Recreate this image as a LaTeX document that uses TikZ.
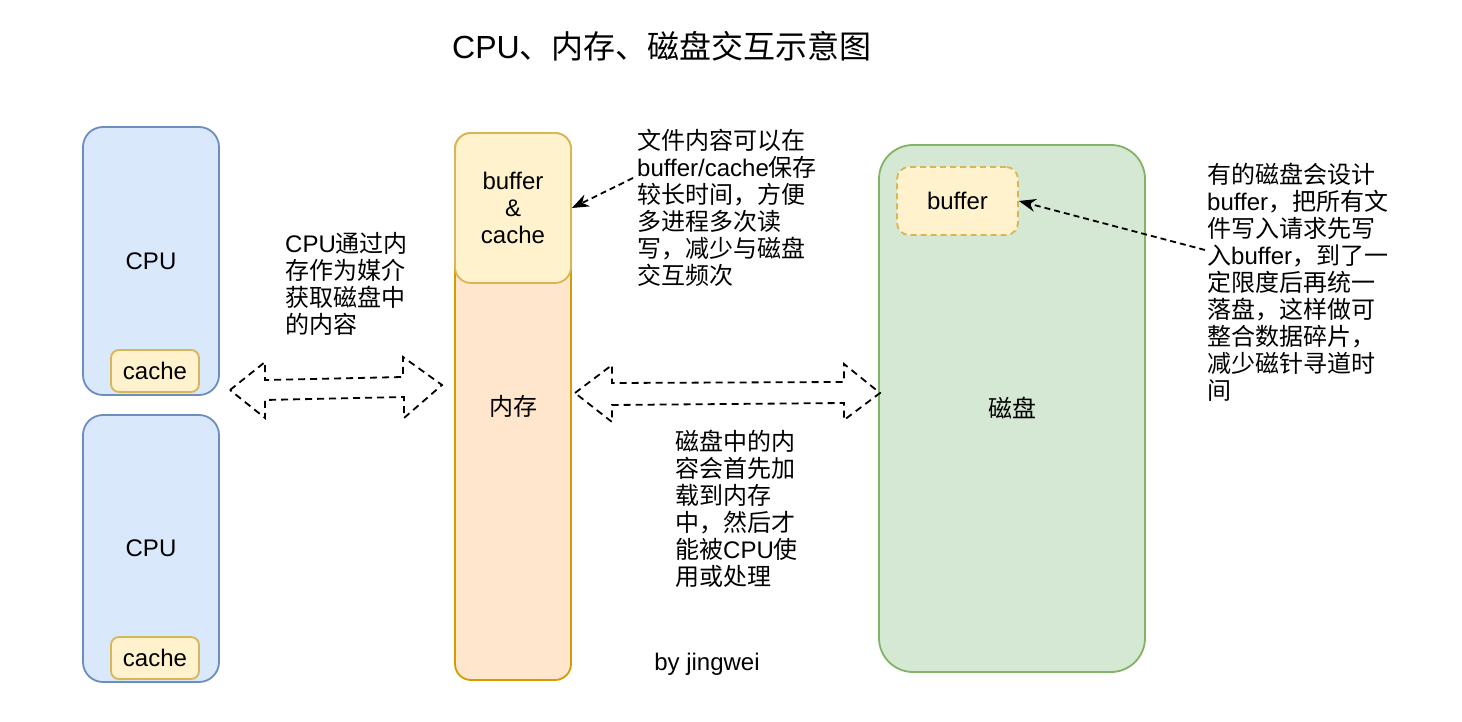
\documentclass[tikz,border=0pt]{standalone}
\usepackage{fontspec}
\setmainfont{Liberation Sans}
\newfontfamily\zhfont{Noto Sans CJK SC}
\newcommand\zh[1]{{\zhfont #1}}
\usetikzlibrary{arrows.meta}
\definecolor{bluefill}{HTML}{DAE8FC}
\definecolor{bluestroke}{HTML}{6C8EBF}
\definecolor{yelfill}{HTML}{FFF2CC}
\definecolor{yelstroke}{HTML}{D6B656}
\definecolor{orafill}{HTML}{FFE6CC}
\definecolor{orastroke}{HTML}{D79B00}
\definecolor{grnfill}{HTML}{D5E8D4}
\definecolor{grnstroke}{HTML}{82B366}
\tikzset{
  box/.style={draw, line width=1.8pt, inner sep=0pt, font=\fontsize{24}{27}\selectfont, align=center},
  bluebox/.style={box, fill=bluefill, draw=bluestroke, rounded corners=20pt},
  yelbox/.style={box, fill=yelfill, draw=yelstroke},
  txt/.style={inner sep=0pt, align=left, font=\fontsize{24}{27}\selectfont},
  bigarrow/.style={draw=black, line width=1.8pt, dash pattern=on 7pt off 5pt},
  note/.style={draw=black, line width=1.8pt, dash pattern=on 6pt off 4pt, -{Stealth[length=17pt,width=13pt]}}
}
\begin{document}
\begin{tikzpicture}[x=1pt,y=-1pt]
\useasboundingbox (0,0) rectangle (1462,722);
\fill[white] (0,0) rectangle (1462,722);

\node[txt, anchor=base, font=\fontsize{32}{36}\selectfont] (title) at (662,59) {CPU\zh{、内存、磁盘交互示意图}};

% CPUs
\node[bluebox, minimum width=136pt, minimum height=268pt] (cpu1) at (151,261) {CPU};
\node[yelbox, rounded corners=8pt, minimum width=88pt, minimum height=42pt] (cache1) at (155,371) {cache};
\node[bluebox, minimum width=136pt, minimum height=267pt] (cpu2) at (151,548.5) {CPU};
\node[yelbox, rounded corners=8pt, minimum width=88pt, minimum height=42pt] (cache2) at (155,658) {cache};

% memory
\node[box, fill=orafill, draw=orastroke, rounded corners=16pt, minimum width=116pt, minimum height=547pt] (mem) at (513,406.5) {\zh{内存}};
\node[yelbox, rounded corners=16pt, minimum width=116pt, minimum height=150pt] (bufcache) at (513,208) {buffer\\\&\\cache};

% disk
\node[box, fill=grnfill, draw=grnstroke, rounded corners=34pt, minimum width=266pt, minimum height=527pt] (disk) at (1012,408.5) {\zh{磁盘}};
\node[yelbox, dash pattern=on 6pt off 4pt, rounded corners=12pt, minimum width=121pt, minimum height=68pt] (dbuf) at (957.5,201) {buffer};

% big double arrows
\draw[bigarrow] (230,390) -- (265,362) -- (265,380) -- (403,377) -- (403,357) -- (442,385)
  -- (404,418) -- (404,397) -- (265,400) -- (265,418) -- cycle;
\draw[bigarrow] (575,393) -- (612,365) -- (612,383) -- (844,382) -- (844,364) -- (880,393)
  -- (844,420) -- (844,403) -- (612,405) -- (612,422) -- cycle;

% texts (base anchor = baseline of the last line)
\node[txt, anchor=base west] (t1) at (285,333) {CPU\zh{通过内}\\\zh{存作为媒介}\\\zh{获取磁盘中}\\\zh{的内容}};
\node[txt, anchor=base west] (t2) at (637,284) {\zh{文件内容可以在}\\buffer/cache\zh{保存}\\\zh{较长时间，方便}\\\zh{多进程多次读}\\\zh{写，减少与磁盘}\\\zh{交互频次}};
\node[txt, anchor=base west] (t3) at (675,585) {\zh{磁盘中的内}\\\zh{容会首先加}\\\zh{载到内存}\\\zh{中，然后才}\\\zh{能被}CPU\zh{使}\\\zh{用或处理}};
\node[txt, anchor=base west] (t4) at (1207,399) {\zh{有的磁盘会设计}\\buffer\zh{，把所有文}\\\zh{件写入请求先写}\\\zh{入}buffer\zh{，到了一}\\\zh{定限度后再统一}\\\zh{落盘，这样做可}\\\zh{整合数据碎片，}\\\zh{减少磁针寻道时}\\\zh{间}};
\node[txt, anchor=base] (by) at (707,670) {by jingwei};

% note arrows
\coordinate (n1) at (633,178);
\coordinate (n2) at (1205,250);
\draw[note] (n1) -- (bufcache.east);
\draw[note] (n2) -- (dbuf.east);
\end{tikzpicture}
\end{document}
